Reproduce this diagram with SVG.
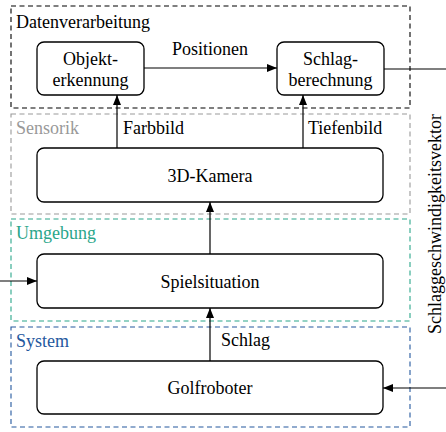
<svg xmlns="http://www.w3.org/2000/svg" width="446" height="432" viewBox="0 0 446 432">
  <style>
    text { font-family: "Liberation Serif", "DejaVu Serif", serif; font-size: 18px; fill: #000; }
    .mid { text-anchor: middle; }
    .frame { fill: none; stroke-width: 1.1; stroke-dasharray: 5 3.5; }
    .node { fill: #fff; stroke: #000; stroke-width: 1.3; }
    .edge { fill: none; stroke: #000; stroke-width: 1.2; }
  </style>
  <defs>
    <marker id="arrow" viewBox="0 0 10 8" refX="10" refY="4" markerWidth="10" markerHeight="8" markerUnits="userSpaceOnUse" orient="auto">
      <path d="M0,0 L10,4 L0,8 z" fill="#000"/>
    </marker>
  </defs>

  <!-- subsystem frames -->
  <g id="frames">
    <g id="frame-datenverarbeitung">
      <rect class="frame" x="11" y="6" width="399" height="102" stroke="#000"/>
      <text x="16" y="28">Datenverarbeitung</text>
    </g>
    <g id="frame-sensorik">
      <rect class="frame" x="11" y="114" width="399" height="100" stroke="#999"/>
      <text x="16" y="134" style="fill:#999">Sensorik</text>
    </g>
    <g id="frame-umgebung">
      <rect class="frame" x="11" y="219" width="399" height="102" stroke="#2aa68a"/>
      <text x="16" y="239" style="fill:#2aa68a">Umgebung</text>
    </g>
    <g id="frame-system">
      <rect class="frame" x="11" y="327" width="399" height="100" stroke="#24589e"/>
      <text x="16" y="347" style="fill:#24589e">System</text>
    </g>
  </g>

  <!-- connectors -->
  <g id="connectors">
    <line class="edge" x1="144" y1="68" x2="277" y2="68" marker-end="url(#arrow)"/>
    <text class="mid" x="210" y="55">Positionen</text>

    <line class="edge" x1="117" y1="148" x2="117" y2="95" marker-end="url(#arrow)"/>
    <text x="123" y="134">Farbbild</text>

    <line class="edge" x1="303" y1="148" x2="303" y2="95" marker-end="url(#arrow)"/>
    <text x="308" y="134">Tiefenbild</text>

    <line class="edge" x1="210" y1="254" x2="210" y2="202" marker-end="url(#arrow)"/>

    <line class="edge" x1="210" y1="361" x2="210" y2="308" marker-end="url(#arrow)"/>
    <text x="221" y="346">Schlag</text>

    <line class="edge" x1="0" y1="281" x2="37" y2="281" marker-end="url(#arrow)"/>

    <line class="edge" x1="384" y1="69" x2="446" y2="69"/>
    <line class="edge" x1="446" y1="388" x2="383" y2="388" marker-end="url(#arrow)"/>
    <text class="mid" transform="translate(441,224) rotate(-90)">Schlaggeschwindigkeitsvektor</text>
  </g>

  <!-- blocks -->
  <g id="objekterkennung">
    <rect class="node" x="37" y="42" width="107" height="53" rx="7"/>
    <text class="mid" x="90.5" y="65">Objekt-</text>
    <text class="mid" x="90.5" y="86">erkennung</text>
  </g>
  <g id="schlagberechnung">
    <rect class="node" x="277" y="42" width="107" height="53" rx="7"/>
    <text class="mid" x="330.5" y="65">Schlag-</text>
    <text class="mid" x="330.5" y="86">berechnung</text>
  </g>
  <g id="kamera">
    <rect class="node" x="37" y="148" width="346" height="54" rx="7"/>
    <text class="mid" x="210" y="182">3D-Kamera</text>
  </g>
  <g id="spielsituation">
    <rect class="node" x="37" y="254" width="346" height="54" rx="7"/>
    <text class="mid" x="210" y="288">Spielsituation</text>
  </g>
  <g id="golfroboter">
    <rect class="node" x="37" y="361" width="346" height="53" rx="7"/>
    <text class="mid" x="210" y="394">Golfroboter</text>
  </g>
</svg>
